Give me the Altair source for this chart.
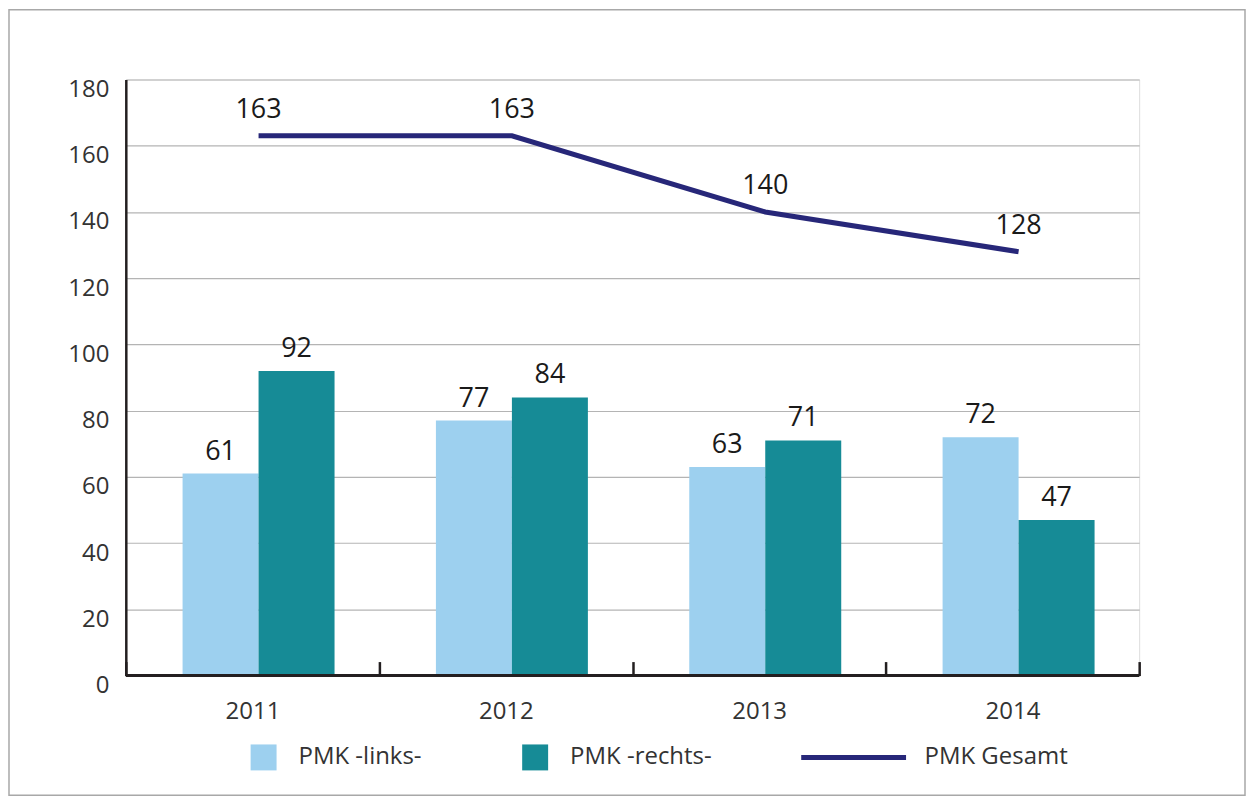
import altair as alt
import pandas as pd

years = ["2011", "2012", "2013", "2014"]
links = [61, 77, 63, 72]
rechts = [92, 84, 71, 47]
gesamt = [163, 163, 140, 128]
bar_series = ["PMK -links-", "PMK -rechts-"]
line_series = "PMK Gesamt"
y_ticks = [0, 20, 40, 60, 80, 100, 120, 140, 160, 180]

bars_df = pd.DataFrame(
    [{"year": y, "series": bar_series[0], "value": v} for y, v in zip(years, links)]
    + [{"year": y, "series": bar_series[1], "value": v} for y, v in zip(years, rechts)]
)
line_df = pd.DataFrame({"year": years, "series": [line_series] * 4, "value": gesamt})

FONT = "Open Sans"
TXT = "#333333"
DARK = "#231f20"
W, H = 1015, 597
LINE_POS = 0.524

x_enc = alt.X(
    "year:N",
    sort=years,
    title=None,
    scale=alt.Scale(paddingInner=0, paddingOuter=0),
    axis=alt.Axis(
        tickBand="extent",
        domain=False,
        grid=False,
        ticks=True,
        tickSize=14,
        tickWidth=2.5,
        tickColor=DARK,
        offset=-14,
        labelPadding=24,
        labelFontSize=24,
        labelFont=FONT,
        labelColor=TXT,
        labelAngle=0,
    ),
)
y_scale = alt.Scale(domain=[0, 180], nice=False)
y_enc = alt.Y(
    "value:Q",
    scale=y_scale,
    title=None,
    axis=alt.Axis(
        values=y_ticks,
        grid=True,
        gridColor="#b4b4b4",
        gridWidth=1.2,
        domain=True,
        domainColor=DARK,
        domainWidth=2.5,
        ticks=False,
        labelPadding=17,
        labelOffset=10,
        labelFontSize=24,
        labelFont=FONT,
        labelColor=TXT,
    ),
)

xoff_scale = alt.Scale(paddingInner=0, paddingOuter=0.667, align=0.56)

bars = alt.Chart(bars_df).mark_bar().encode(
    x=x_enc,
    xOffset=alt.XOffset("series:N", sort=bar_series, scale=xoff_scale),
    y=y_enc,
    fill=alt.Fill(
        "series:N",
        sort=bar_series,
        scale=alt.Scale(domain=bar_series, range=["#9dd0ef", "#168b96"]),
        legend=alt.Legend(
            orient="none", legendX=125, legendY=666, direction="horizontal",
            title=None, symbolType="square", symbolSize=676, symbolStrokeWidth=0,
            symbolOpacity=1, labelFontSize=24, labelFont=FONT, labelColor=TXT,
            labelOffset=22, columnPadding=100, labelLimit=400,
        ),
    ),
)

bar_labels = alt.Chart(bars_df).mark_text(
    dy=-22, baseline="middle", fontSize=27, font=FONT, color="#1a1a1a"
).encode(
    x=alt.X("year:N", sort=years),
    xOffset=alt.XOffset("series:N", sort=bar_series),
    y=alt.Y("value:Q", scale=y_scale),
    text="value:Q",
)

line = alt.Chart(line_df).mark_line(strokeWidth=5).encode(
    x=alt.X("year:N", sort=years, bandPosition=LINE_POS),
    y=alt.Y("value:Q", scale=y_scale),
    stroke=alt.Stroke(
        "series:N",
        scale=alt.Scale(domain=[line_series], range=["#272779"]),
        legend=alt.Legend(
            orient="none", legendX=674, legendY=624, title=None,
            symbolType="stroke", symbolSize=11025, symbolStrokeWidth=5,
            labelFontSize=24, labelFont=FONT, labelColor=TXT, labelOffset=16,
            labelLimit=400,
        ),
    ),
)

line_labels = alt.Chart(line_df).mark_text(
    dy=-26, baseline="middle", fontSize=27, font=FONT, color="#1a1a1a"
).encode(
    x=alt.X("year:N", sort=years, bandPosition=LINE_POS),
    y=alt.Y("value:Q", scale=y_scale),
    text="value:Q",
)

baseline = alt.Chart(pd.DataFrame({"v": [0]})).mark_rule(
    color=DARK, strokeWidth=3
).encode(
    y=alt.Y("v:Q", scale=y_scale),
    x=alt.value(0),
    x2=alt.value(W),
)

border = alt.Chart(pd.DataFrame({"v": [0]})).mark_rect(
    fill=None, stroke="#a8a8a8", strokeWidth=1.5
).encode(
    x=alt.value(-117),
    x2=alt.value(1121),
    y=alt.value(-70),
    y2=alt.value(717),
)

chart = alt.layer(border, bars, baseline, line, bar_labels, line_labels).properties(
    width=W, height=H, padding=0
).configure_view(stroke=None).configure(background="white")

chart.save("out.html", embed_options={"renderer": "svg", "actions": False})
